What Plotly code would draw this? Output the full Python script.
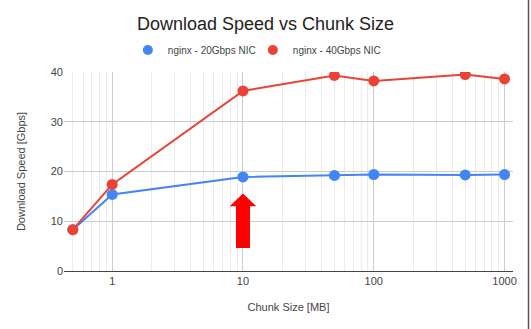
import numpy as np
import plotly.graph_objects as go

# Chunk sizes (MB) and measured download speeds (Gbps)
chunk_sizes = [0.5, 1, 10, 50, 100, 500, 1000]
speed_20g = [8.3, 15.4, 18.9, 19.2, 19.4, 19.3, 19.4]
speed_40g = [8.3, 17.4, 36.2, 39.3, 38.2, 39.5, 38.6]

series_names = ["nginx - 20Gbps NIC", "nginx - 40Gbps NIC"]
series_colors = ["#4285F4", "#EA4335"]
legend_widths = [80, 100]

x_ticks = [1, 10, 100, 1000]
y_ticks = [0, 10, 20, 30, 40]

# Highlight arrow pointing at the 10 MB chunk size (y in Gbps)
arrow_x = 10
arrow_tip, arrow_head_base, arrow_tail = 15.6, 13.0, 4.6

FONT = "Liberation Sans, Arial, sans-serif"

fig = go.Figure()

for name, ys, color in zip(series_names, [speed_20g, speed_40g], series_colors):
    fig.add_trace(go.Scatter(
        x=chunk_sizes, y=ys, mode="lines+markers", name=name,
        line=dict(color=color, width=2),
        marker=dict(color=color, size=11),
        showlegend=False,
    ))

# Legend entries drawn as plain dots
for name, color, lw in zip(series_names, series_colors, legend_widths):
    fig.add_trace(go.Scatter(
        x=[None], y=[None], mode="markers", name=name,
        marker=dict(color=color, size=10), legendwidth=lw,
    ))

minor_vals = [m * 10.0 ** e for e in range(-1, 3) for m in range(2, 10)]

fig.update_layout(
    width=531, height=329,
    margin=dict(l=64, r=18, t=72, b=58, autoexpand=False),
    paper_bgcolor="white", plot_bgcolor="white",
    font=dict(family=FONT, size=11, color="#444"),
    title=dict(text="Download Speed vs Chunk Size", x=0.5, xref="container",
               y=1 - 24 / 329, yref="container", yanchor="middle",
               font=dict(size=18, color="#222")),
    legend=dict(orientation="h", xref="container", yref="container",
                x=0.495, xanchor="center", y=1 - 50 / 329, yanchor="middle",
                font=dict(size=10, color="#444"), itemwidth=30,
                bgcolor="rgba(0,0,0,0)"),
    xaxis=dict(
        type="log", range=[np.log10(0.428), np.log10(1160)],
        tickvals=x_ticks, ticktext=[str(v) for v in x_ticks],
        showgrid=True, gridcolor="#cccccc", gridwidth=1,
        minor=dict(tickvals=minor_vals, showgrid=True, gridcolor="#ebebeb", gridwidth=1),
        showline=True, linecolor="#444", linewidth=1,
        zeroline=False, ticks="", tickfont=dict(size=11, color="#444"),
        title=dict(text="Chunk Size [MB]", font=dict(size=11, color="#444"), standoff=17),
    ),
    yaxis=dict(
        range=[0, 40], tickvals=y_ticks,
        showgrid=True, gridcolor="#cccccc", gridwidth=1,
        zeroline=False, ticks="", tickfont=dict(size=11, color="#444"),
        title=dict(text="Download Speed [Gbps]", font=dict(size=11, color="#444"), standoff=22),
    ),
)

# Block arrow: x offsets in pixels around the 10 MB position, y in data units
head_hw, shaft_hw = 13.3, 7
path = (f"M{-shaft_hw},{arrow_tail} L{shaft_hw},{arrow_tail} "
        f"L{shaft_hw},{arrow_head_base} L{head_hw},{arrow_head_base} "
        f"L0,{arrow_tip} L{-head_hw},{arrow_head_base} "
        f"L{-shaft_hw},{arrow_head_base} Z")
fig.add_shape(type="path", path=path, xref="x", yref="y",
              xsizemode="pixel", xanchor=arrow_x,
              fillcolor="#ff0000", line=dict(width=0), layer="above")

# Frame edge along the right side of the page
fig.add_shape(type="line", xref="paper", yref="paper",
              x0=(528.5 - 64) / 449, x1=(528.5 - 64) / 449,
              y0=-58 / 199 - 0.01, y1=(271) / 199 + 0.01,
              line=dict(color="#555", width=1.5))

fig.write_html("out.html")
